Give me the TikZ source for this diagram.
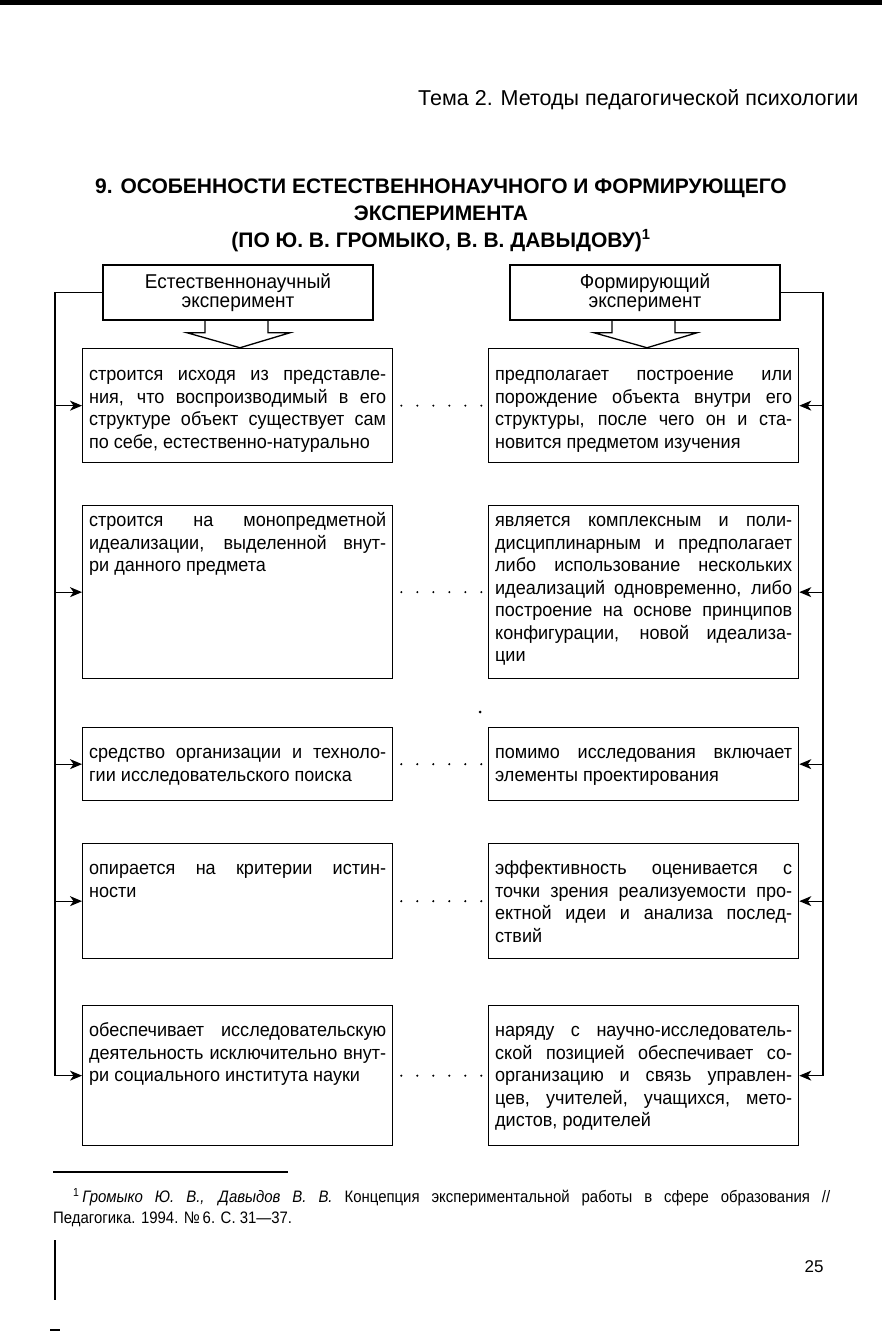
\documentclass[tikz,border=0pt]{standalone}
\usepackage{fontspec}
\setmainfont{Liberation Sans}
\newfontfamily\cellfont{Liberation Sans}[FakeStretch=0.95]
\newfontfamily\notefont{Liberation Sans}[FakeStretch=0.9]
\usetikzlibrary{arrows.meta,positioning}
\hyphenpenalty=10000
\exhyphenpenalty=10000

\begin{document}
\begin{tikzpicture}[
  x=1pt, y=-1pt,
  font=\cellfont\fontsize{19}{22.5}\selectfont,
  cell/.style={draw, line width=1.3pt, anchor=north west, text width=297pt,
               align=justify, inner xsep=6.5pt, inner ysep=0pt},
  head/.style={draw, line width=1.5pt, minimum width=270pt, minimum height=55pt,
               align=center, font=\cellfont\fontsize{20}{19}\selectfont},
  shaft/.style={line width=1.3pt},
  wire/.style={line width=1.1pt},
  arr/.style={wire, -{Stealth[length=12pt, width=10pt, inset=3.5pt]}},
  gap/.style={line width=2.3pt, line cap=round, dash pattern=on 0pt off 16pt}
]
\useasboundingbox (0,0) rectangle (882,1332);
\fill (0,0) rectangle (882,5);

\node[anchor=east, font=\fontsize{21.5}{24}\selectfont] (topic) at (862,100)
  {Тема 2. Методы педагогической психологии};
\node[align=center, font=\fontsize{21}{27}\selectfont\bfseries] (title) at (441,215)
  {9. ОСОБЕННОСТИ ЕСТЕСТВЕННОНАУЧНОГО И ФОРМИРУЮЩЕГО\\ЭКСПЕРИМЕНТА\\(ПО Ю. В. ГРОМЫКО, В. В. ДАВЫДОВУ)\textsuperscript{1}};

\node[head] (nat) at (238,292.5) {Естественнонаучный\\эксперимент};
\node[head] (form) at (645,292.5) {Формирующий\\эксперимент};
\foreach \h in {nat,form}
  \draw[shaft] ([xshift=-33]\h.south) -- ++(0,12) -- ++(-18,0) -- ++(53,15)
    -- ++(50,-15) -- ++(-22,0) -- ++(0,-12);

\node[cell, text height=32pt, text depth=82pt] (l1) at (82,348)
  {строится исходя из представле-\break ния, что воспроизводимый в его\break
   структуре объект существует сам\break по себе, естественно-натурально};
\node[cell, text height=32pt, text depth=82pt] (r1) at (488,348)
  {предполагает построение или\break порождение объекта внутри его\break
   структуры, после чего он и ста-\break новится предметом изучения};

\node[cell, text height=21pt, text depth=152pt] (l2) at (82,505)
  {строится на монопредметной\break идеализации, выделенной внут-\break
   ри данного предмета};
\node[cell, text height=21pt, text depth=152pt] (r2) at (488,505)
  {является комплексным и поли-\break дисциплинарным и предполагает\break
   либо использование нескольких\break идеализаций одновременно, либо\break
   построение на основе принципов\break конфигурации, новой идеализа-\break ции};

\node[cell, text height=31pt, text depth=42pt] (l3) at (82,727)
  {средство организации и техноло-\break гии исследовательского поиска};
\node[cell, text height=31pt, text depth=42pt] (r3) at (488,727)
  {помимо исследования включает\break элементы проектирования};

\node[cell, text height=31pt, text depth=84pt] (l4) at (82,843)
  {опирается на критерии истин-\break ности};
\node[cell, text height=31pt, text depth=84pt] (r4) at (488,843)
  {эффективность оценивается с\break точки зрения реализуемости про-\break
   ектной идеи и анализа послед-\break ствий};

\node[cell, text height=31pt, text depth=109pt] (l5) at (82,1005)
  {обеспечивает исследовательскую\break деятельность исключительно внут-\break
   ри социального института науки};
\node[cell, text height=31pt, text depth=109pt] (r5) at (488,1005)
  {наряду с научно-исследователь-\break ской позицией обеспечивает со-\break
   организацию и связь управлен-\break цев, учителей, учащихся, мето-\break
   дистов, родителей};

\coordinate (lbus) at (55,292.5);
\coordinate (rbus) at (823,292.5);
\draw[wire] (nat.west) -- (lbus) -- (lbus |- l5.west);
\draw[wire] (form.east) -- (rbus) -- (rbus |- r5.east);
\foreach \i in {1,...,5} {
  \draw[arr] (lbus |- l\i.west) -- (l\i.west);
  \draw[arr] (rbus |- r\i.east) -- (r\i.east);
  \draw[gap] ([xshift=8]l\i.east) -- ([xshift=-3]r\i.west);
}
\fill (480,712) circle (1.5);

\draw[line width=1.3pt] (53,1172) -- (288,1172);
\node[anchor=north west, text width=777pt, align=justify, inner sep=0pt,
      font=\notefont\fontsize{16.6}{21}\selectfont] (note) at (53,1188)
  {\hspace*{20pt}\textsuperscript{1}\,\textit{Громыко Ю. В., Давыдов В. В.} Концепция экспериментальной работы в сфере образования //\break
   Педагогика. 1994. №\,6. С. 31—37.};
\node[font=\fontsize{17}{20}\selectfont] (page) at (814,1267) {25};

\draw[line width=2.5pt] (55,1240) -- (55,1300);
\draw[line width=2pt] (50,1330) -- (60,1330);
\end{tikzpicture}
\end{document}
